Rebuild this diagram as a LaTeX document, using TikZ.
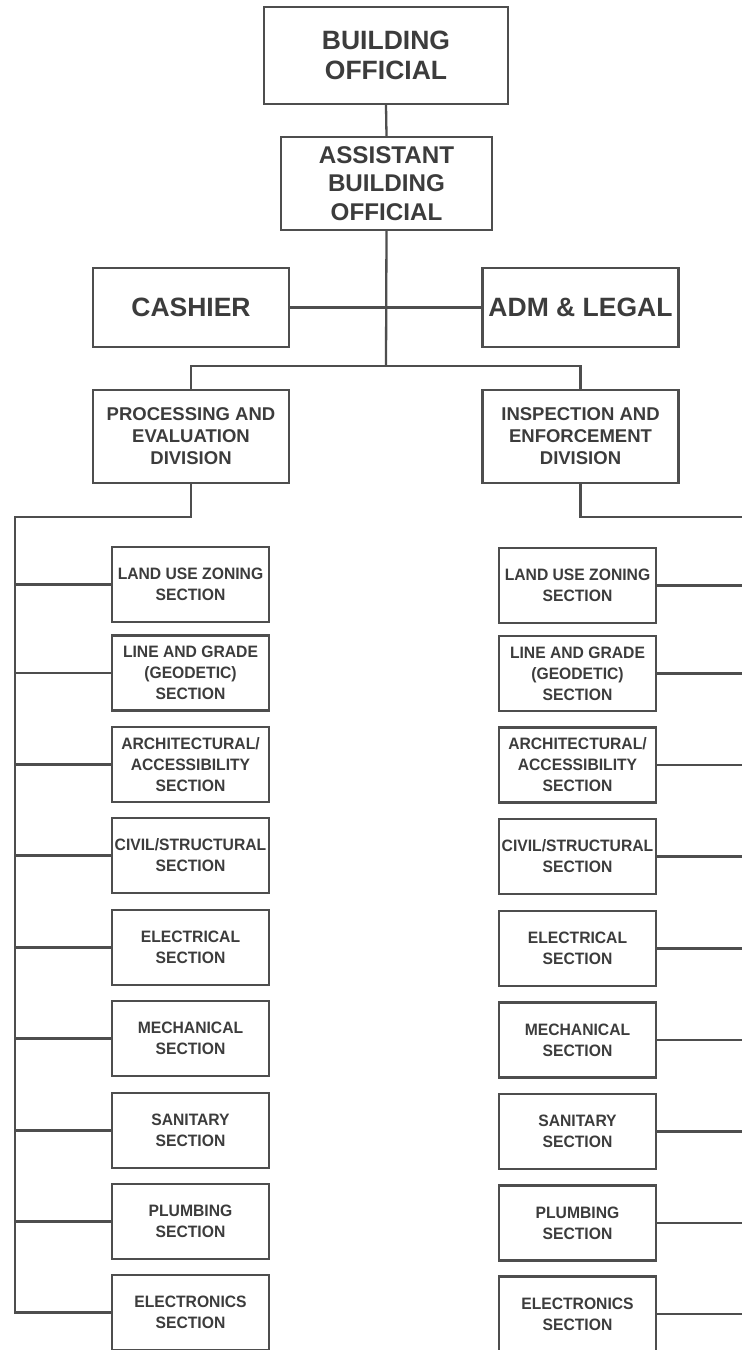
\documentclass[tikz,border=0pt]{standalone}
\usepackage{fontspec}
\setmainfont{Liberation Sans}
\newfontfamily\secfont[FakeStretch=0.95]{Liberation Sans}
\definecolor{linec}{HTML}{4E4E4E}
\definecolor{textc}{HTML}{3C3C3C}
\begin{document}
\begin{tikzpicture}[x=1pt,y=-1pt,
  orgbox/.style={draw=linec, line width=2.3pt, text=textc, align=center, inner sep=0pt, font=\bfseries},
  topbox/.style={orgbox, font=\fontsize{26.5}{30}\selectfont\bfseries},
  asstbox/.style={orgbox, font=\fontsize{24.2}{28.5}\selectfont\bfseries},
  midbox/.style={orgbox, minimum width=196pt, minimum height=79pt, font=\fontsize{26.5}{30}\selectfont\bfseries},
  divbox/.style={orgbox, minimum width=196pt, minimum height=93pt, font=\fontsize{18.5}{22}\selectfont\bfseries},
  secbox/.style={orgbox, minimum width=157pt, minimum height=75pt, font=\secfont\fontsize{16.5}{21}\selectfont\bfseries},
  conn/.style={draw=linec, line width=2.3pt}]
\useasboundingbox (0,0) rectangle (742,1350);
\fill[white] (0,0) rectangle (742,1350);

\node[topbox, minimum width=244pt, minimum height=97pt] (bo) at (386,55.5) {BUILDING\\OFFICIAL};
\node[asstbox, minimum width=211pt, minimum height=93pt] (abo) at (386.5,183.5) {ASSISTANT\\BUILDING\\OFFICIAL};
\node[midbox] (cash) at (191,307.5) {CASHIER};
\node[midbox] (adm) at (580.5,307.5) {ADM \& LEGAL};
\node[divbox] (proc) at (191,436.5) {PROCESSING AND\\EVALUATION\\DIVISION};
\node[divbox] (insp) at (580.5,436.5) {INSPECTION AND\\ENFORCEMENT\\DIVISION};

% left sections
\node[secbox] (L1) at (190.5,584.5) {LAND USE ZONING\\SECTION};
\node[secbox] (L2) at (190.5,673) {LINE AND GRADE\\(GEODETIC)\\SECTION};
\node[secbox] (L3) at (190.5,764.5) {ARCHITECTURAL/\\ACCESSIBILITY\\SECTION};
\node[secbox] (L4) at (190.5,855.5) {CIVIL/STRUCTURAL\\SECTION};
\node[secbox] (L5) at (190.5,947.5) {ELECTRICAL\\SECTION};
\node[secbox] (L6) at (190.5,1038.5) {MECHANICAL\\SECTION};
\node[secbox] (L7) at (190.5,1130.5) {SANITARY\\SECTION};
\node[secbox] (L8) at (190.5,1221.5) {PLUMBING\\SECTION};
\node[secbox] (L9) at (190.5,1312.5) {ELECTRONICS\\SECTION};

% right sections
\node[secbox] (R1) at (577.5,585.5) {LAND USE ZONING\\SECTION};
\node[secbox] (R2) at (577.5,673.5) {LINE AND GRADE\\(GEODETIC)\\SECTION};
\node[secbox] (R3) at (577.5,765) {ARCHITECTURAL/\\ACCESSIBILITY\\SECTION};
\node[secbox] (R4) at (577.5,856.5) {CIVIL/STRUCTURAL\\SECTION};
\node[secbox] (R5) at (577.5,948.5) {ELECTRICAL\\SECTION};
\node[secbox] (R6) at (577.5,1040) {MECHANICAL\\SECTION};
\node[secbox] (R7) at (577.5,1131.5) {SANITARY\\SECTION};
\node[secbox] (R8) at (577.5,1223) {PLUMBING\\SECTION};
\node[secbox] (R9) at (577.5,1314) {ELECTRONICS\\SECTION};

% connectors
\coordinate (busc) at (386,366);
\coordinate (lb) at (15,517);
\coordinate (rb) at (742,517);
\draw[conn] (bo.south) -- (abo.north);
\draw[conn] (abo.south) -- (busc);
\draw[conn] (cash.east) -- (adm.west);
\draw[conn] (proc.north) |- (busc) -| (insp.north);
\draw[conn] (proc.south) |- (lb) |- (L9.west);
\draw[conn] (insp.south) |- (rb);
\foreach \i in {1,...,8} {
  \draw[conn] (L\i.west) -- (lb |- L\i.west);
}
\foreach \i in {1,...,9} {
  \draw[conn] (R\i.east) -- (rb |- R\i.east);
}
\end{tikzpicture}
\end{document}
